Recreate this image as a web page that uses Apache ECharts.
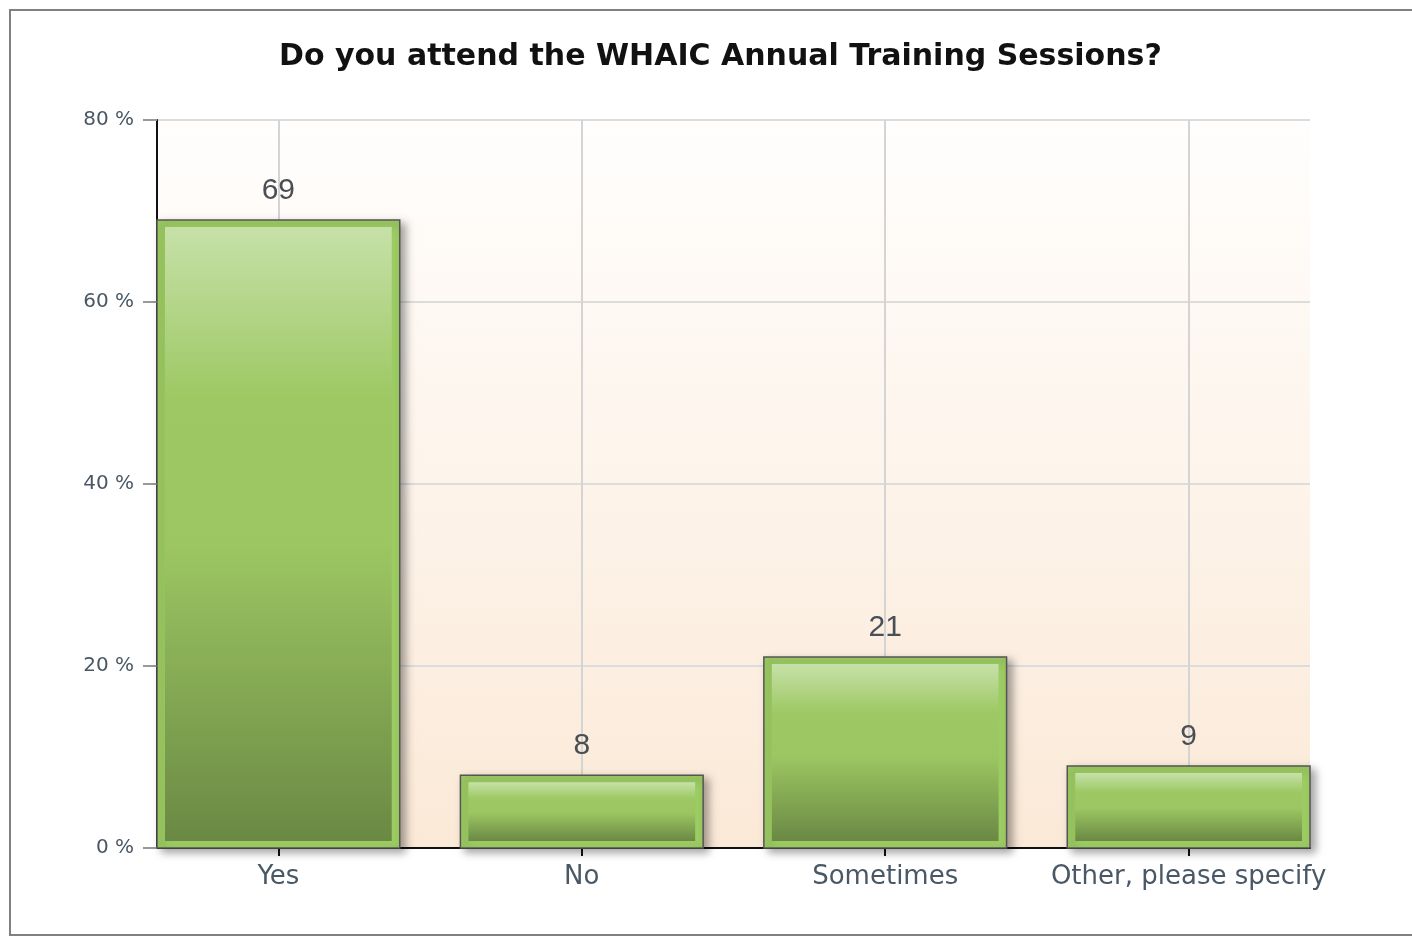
<!DOCTYPE html>
<html>
<head>
<meta charset="utf-8">
<script src="https://cdn.jsdelivr.net/npm/echarts@6/dist/echarts.min.js"></script>
<style>
  html, body { margin: 0; padding: 0; background: #fff; }
  #chart { width: 1412px; height: 937px; }
</style>
</head>
<body>
<div id="chart"></div>
<script>
var categories = ['Yes', 'No', 'Sometimes', 'Other, please specify'];
var percents = [69, 8, 21, 9];
var yTicks = [0, 20, 40, 60, 80];

var seriesData = percents.map(function (v, i) { return [i, v]; });

var chart = echarts.init(document.getElementById('chart'));

var option = {
    animation: false,
    title: {
        text: 'Do you attend the WHAIC Annual Training Sessions?',
        left: 274,
        top: 37,
        textStyle: {
            fontFamily: 'DejaVu Sans',
            fontWeight: 'bold',
            fontSize: 30,
            color: '#111'
        }
    },
    graphic: [{
        type: 'rect',
        shape: { x: 10, y: 10, width: 1420, height: 925 },
        style: { fill: 'none', stroke: '#808080', lineWidth: 2 },
        silent: true
    }],
    grid: {
        left: 157,
        right: 102,
        top: 120,
        bottom: 89,
        show: true,
        borderWidth: 0,
        backgroundColor: {
            type: 'linear', x: 0, y: 0, x2: 0, y2: 1,
            colorStops: [
                { offset: 0, color: '#fffefd' },
                { offset: 1, color: '#fbe9d7' }
            ]
        }
    },
    xAxis: {
        type: 'value',
        min: -0.4,
        max: 3.4,
        axisLine: { show: true, onZero: false, lineStyle: { color: '#111', width: 2 } },
        axisTick: {
            show: true,
            inside: false,
            customValues: [0, 1, 2, 3],
            length: 8,
            lineStyle: { color: '#111', width: 2 }
        },
        axisLabel: {
            customValues: [0, 1, 2, 3],
            formatter: function (v) { return categories[Math.round(v)]; },
            fontFamily: 'DejaVu Sans',
            fontSize: 26,
            color: '#4a5866',
            margin: 16
        },
        splitLine: { show: true, lineStyle: { color: '#d4d4d4', width: 2 } }
    },
    yAxis: {
        type: 'value',
        min: 0,
        max: 80,
        interval: 20,
        axisLine: { show: true, onZero: false, lineStyle: { color: '#111', width: 2 } },
        axisTick: { show: true, length: 14, lineStyle: { color: '#999', width: 2 } },
        axisLabel: {
            formatter: '{value} %',
            fontFamily: 'DejaVu Sans',
            fontSize: 20,
            color: '#4a5866',
            margin: 23
        },
        splitLine: { show: true, lineStyle: { color: '#dcdcdc', width: 2 } }
    },
    series: [{
        type: 'custom',
        data: seriesData,
        clip: false,
        z: 3,
        renderItem: function (params, api) {
            var x = api.value(0);
            var v = api.value(1);
            var top = api.coord([x, v]);
            var base = api.coord([x, 0]);
            var w = api.size([0.8, 0])[0];
            var left = top[0] - w / 2;
            var h = base[1] - top[1];
            var inset = 7;
            return {
                type: 'group',
                children: [{
                    type: 'rect',
                    shape: { x: left, y: top[1], width: w, height: h },
                    style: {
                        fill: '#9ccb62',
                        stroke: '#555',
                        lineWidth: 1.5,
                        shadowBlur: 8,
                        shadowOffsetX: 5,
                        shadowOffsetY: 4,
                        shadowColor: 'rgba(0,0,0,0.35)'
                    }
                }, {
                    type: 'rect',
                    shape: { x: left + inset + 1, y: top[1] + inset, width: w - 2 * inset - 2, height: h - 2 * inset },
                    style: {
                        fill: {
                            type: 'linear', x: 0, y: 0, x2: 0, y2: 1,
                            colorStops: [
                                { offset: 0, color: '#c6e1a8' },
                                { offset: 0.28, color: '#9dc863' },
                                { offset: 0.52, color: '#9cc662' },
                                { offset: 1, color: '#6a8944' }
                            ]
                        }
                    }
                }, {
                    type: 'text',
                    style: {
                        text: String(v),
                        x: top[0],
                        y: top[1] - 29,
                        align: 'center',
                        verticalAlign: 'middle',
                        fontFamily: 'Liberation Sans',
                        fontSize: 30,
                        fill: '#4a4f55'
                    }
                }]
            };
        }
    }]
};

chart.setOption(option);
</script>
</body>
</html>
